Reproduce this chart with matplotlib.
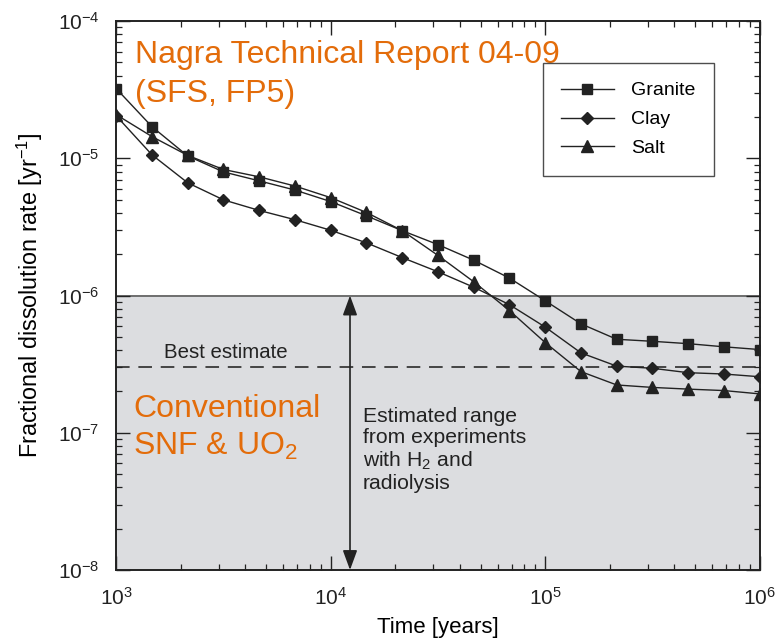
import matplotlib
matplotlib.use("Agg")
import matplotlib.pyplot as plt

plt.rcParams["font.family"] = ["Liberation Sans", "DejaVu Sans"]
plt.rcParams["mathtext.fontset"] = "custom"
plt.rcParams["mathtext.rm"] = "Liberation Sans"
plt.rcParams["mathtext.it"] = "Liberation Sans:italic"
plt.rcParams["mathtext.default"] = "regular"

# time points (years), evenly spaced on the log axis
years = [1000, 1468, 2154, 3162, 4642, 6813, 10000, 14678, 21544, 31623,
         46416, 68129, 100000, 146780, 215443, 316228, 464159, 681292, 1000000]

granite = [3.22e-5, 1.70e-5, 1.04e-5, 7.96e-6, 6.85e-6, 5.87e-6, 4.84e-6,
           3.81e-6, 2.97e-6, 2.35e-6, 1.81e-6, 1.34e-6, 9.16e-7, 6.22e-7,
           4.80e-7, 4.64e-7, 4.46e-7, 4.23e-7, 4.04e-7]
clay = [2.04e-5, 1.06e-5, 6.63e-6, 4.98e-6, 4.17e-6, 3.57e-6, 2.99e-6,
        2.42e-6, 1.89e-6, 1.49e-6, 1.15e-6, 8.58e-7, 5.89e-7, 3.82e-7,
        3.06e-7, 2.95e-7, 2.74e-7, 2.68e-7, 2.56e-7]
salt = [2.08e-5, 1.44e-5, 1.05e-5, 8.29e-6, 7.33e-6, 6.28e-6, 5.17e-6,
        4.03e-6, 2.97e-6, 1.96e-6, 1.26e-6, 7.77e-7, 4.54e-7, 2.79e-7,
        2.23e-7, 2.14e-7, 2.08e-7, 2.03e-7, 1.92e-7]

range_low, range_high = 1e-8, 1e-6
best_estimate = 3e-7
arrow_year = 1.23e4

ORANGE = "#e36c0a"
INK = "#222222"

fig = plt.figure(figsize=(7.8, 6.39), dpi=100)
ax = fig.add_axes([0.149, 0.108, 0.825, 0.859])
ax.set_xscale("log")
ax.set_yscale("log")
ax.set_xlim(1e3, 1e6)
ax.set_ylim(1e-8, 1e-4)

# shaded experimental range
ax.axhspan(range_low, range_high, color="#dcdde0", zorder=0, lw=0)
ax.axhline(range_high, color="#6e6e6e", lw=1.4, zorder=1)
ax.axhline(best_estimate, color="#444444", lw=1.4, ls=(0, (7, 4.5)), zorder=1)

ax.annotate("", xy=(arrow_year, range_low), xytext=(arrow_year, range_high),
            arrowprops=dict(arrowstyle="<|-|>,head_length=0.6,head_width=0.22",
                            mutation_scale=20, color=INK, lw=1.2,
                            shrinkA=0, shrinkB=0), zorder=2)

line_kw = dict(color=INK, lw=1.0, mec=INK, mfc=INK, zorder=3)
ax.plot(years, granite, marker="s", ms=7.5, label="Granite", **line_kw)
ax.plot(years, clay, marker="D", ms=6.5, label="Clay", **line_kw)
ax.plot(years, salt, marker="^", ms=8, label="Salt", **line_kw)

leg = ax.legend(loc="upper right", bbox_to_anchor=(0.929, 0.923),
                fontsize=14, frameon=True, fancybox=False, edgecolor=INK,
                handlelength=2.7, handletextpad=0.9, labelspacing=0.58,
                borderpad=0.95, borderaxespad=0)
leg.get_frame().set_linewidth(1.0)
leg.set_zorder(5)

# annotation texts, placed in axes fractions
ax.text(0.029, 0.923, "Nagra Technical Report 04-09", transform=ax.transAxes,
        color=ORANGE, fontsize=23, va="baseline", ha="left")
ax.text(0.029, 0.853, "(SFS, FP5)", transform=ax.transAxes,
        color=ORANGE, fontsize=23, va="baseline", ha="left")
ax.text(0.026, 0.279, "Conventional", transform=ax.transAxes,
        color=ORANGE, fontsize=23, va="baseline", ha="left")
ax.text(0.026, 0.209, "SNF & UO$_2$", transform=ax.transAxes,
        color=ORANGE, fontsize=23, va="baseline", ha="left")
ax.text(3.25e3, 3.5e-7, "Best estimate", color=INK, fontsize=14.7,
        ha="center", va="baseline")
ax.text(1.41e4, 7.5e-8, "Estimated range\nfrom experiments\nwith H$_2$ and\nradiolysis",
        color=INK, fontsize=15.2, ha="left", va="center", linespacing=1.13)

ax.set_xlabel("Time [years]", fontsize=16, labelpad=6)
ax.set_ylabel("Fractional dissolution rate [yr$^{-1}$]", fontsize=16.8, labelpad=9)

for side in ax.spines.values():
    side.set_color(INK)
    side.set_linewidth(1.4)
ax.tick_params(which="both", direction="in", top=True, right=True,
               colors=INK, labelcolor=INK)
ax.tick_params(which="major", length=10, width=1.0, labelsize=15, pad=12)
ax.tick_params(which="minor", length=4.5, width=0.9)

fig.savefig("out.png", dpi=100, facecolor="white")
